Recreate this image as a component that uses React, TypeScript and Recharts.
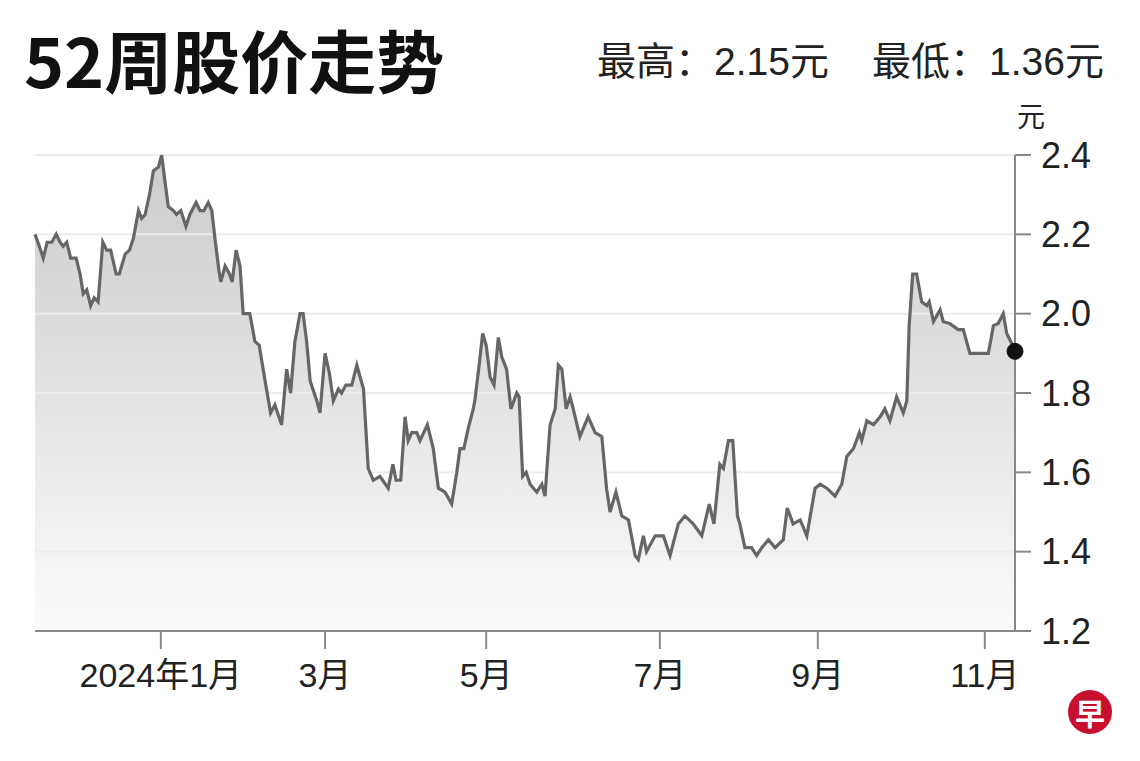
import React from "react";
import {
  ComposedChart,
  Area,
  Line,
  XAxis,
  YAxis,
  ReferenceLine,
} from "recharts";

// trading-day index (0 = start of the 52-week window)
const days = [
  0, 1.1, 2.1, 3.1, 4.3, 5.4, 6.4, 7.2, 8.1, 9.1, 10.5, 11.5, 12.3, 13.2, 14.2, 15.1, 16.1,
  17.3, 18.3, 19.3, 20.7, 21.5, 23.0, 24.1, 25.1, 26.4, 27.2, 28.1, 29.2, 30.2, 31.5, 32.3,
  33.2, 34.0, 35.3, 36.1, 37.2, 38.5, 39.5, 41.1, 42.1, 43.1, 44.2, 45.1, 45.9, 46.9, 47.4,
  48.5, 49.6, 50.3, 51.3, 52.3, 53.1, 54.8, 56.1, 57.2, 58.7, 60.1, 61.2, 62.9, 64.2, 65.2,
  66.3, 67.6, 68.4, 69.3, 70.2, 71.9, 72.7, 74.0, 75.1, 76.1, 77.4, 78.2, 79.3, 80.8, 82.1,
  83.8, 85.0, 86.3, 88.0, 90.1, 91.3, 92.1, 93.3, 94.4, 95.2, 96.1, 97.4, 98.2, 100.1, 101.6,
  102.9, 104.6, 106.3, 107.6, 108.4, 109.4, 110.5, 111.8, 112.2, 113.3, 114.2, 115.1, 116.1,
  117.1, 118.2, 119.1, 120.3, 121.4, 122.9, 123.5, 124.4, 125.3, 126.3, 128.0, 129.3, 130.1,
  131.4, 132.7, 133.5, 134.4, 135.5, 136.5, 137.3, 139.0, 141.1, 142.9, 144.6, 145.8, 146.7,
  148.2, 149.7, 151.4, 153.1, 153.9, 155.2, 156.0, 158.2, 160.3, 162.0, 164.1, 165.8, 167.9,
  170.1, 172.0, 173.2, 174.7, 175.6, 176.9, 178.0, 179.2, 179.8, 181.1, 182.8, 184.1, 185.4,
  187.1, 188.8, 190.9, 191.9, 193.4, 195.2, 196.9, 199.0, 200.3, 202.0, 204.1, 205.8, 207.1,
  208.8, 210.3, 210.9, 212.2, 213.9, 215.6, 216.8, 218.1, 219.8, 221.5, 222.4, 223.0, 223.9,
  224.9, 226.2, 227.5, 228.1, 229.2, 230.9, 231.7, 233.4, 235.5, 236.8, 238.5, 243.2, 244.5,
  245.7, 247.0, 247.9, 249.4, 250,
];

// closing price (元)
const prices = [
  2.2, 2.17, 2.14, 2.18, 2.18, 2.2, 2.18, 2.17, 2.18, 2.14, 2.14, 2.1, 2.05, 2.06, 2.02, 2.04, 2.03,
  2.18, 2.16, 2.16, 2.1, 2.1, 2.15, 2.16, 2.19, 2.26, 2.24, 2.25, 2.3, 2.36, 2.37, 2.4,
  2.33, 2.27, 2.26, 2.25, 2.26, 2.22, 2.25, 2.28, 2.26, 2.26, 2.28, 2.26, 2.19, 2.11, 2.08,
  2.12, 2.1, 2.08, 2.16, 2.12, 2.0, 2.0, 1.93, 1.92, 1.83, 1.75, 1.77, 1.72, 1.86, 1.8,
  1.93, 2.0, 2.0, 1.93, 1.83, 1.78, 1.75, 1.9, 1.85, 1.78, 1.81, 1.8, 1.82, 1.82, 1.87,
  1.81, 1.61, 1.58, 1.59, 1.56, 1.62, 1.58, 1.58, 1.74, 1.68, 1.7, 1.7, 1.68, 1.72, 1.66,
  1.56, 1.55, 1.52, 1.6, 1.66, 1.66, 1.71, 1.76, 1.78, 1.87, 1.95, 1.92, 1.84,
  1.82, 1.94, 1.89, 1.86, 1.76, 1.8, 1.79, 1.59, 1.6, 1.57, 1.55, 1.57, 1.54,
  1.72, 1.76, 1.87, 1.86, 1.76, 1.79, 1.76, 1.69, 1.74, 1.7, 1.69, 1.56, 1.5,
  1.55, 1.49, 1.48, 1.39, 1.38, 1.44, 1.4, 1.44, 1.44, 1.39, 1.47, 1.49, 1.47,
  1.44, 1.52, 1.47, 1.62, 1.61, 1.68, 1.68, 1.49, 1.47, 1.41, 1.41, 1.39, 1.41,
  1.43, 1.41, 1.43, 1.51, 1.47, 1.48, 1.44, 1.56, 1.57, 1.56, 1.54, 1.57, 1.64,
  1.66, 1.7, 1.68, 1.73, 1.72, 1.74, 1.76, 1.73, 1.79, 1.75, 1.78, 1.97, 2.1,
  2.1, 2.03, 2.02, 2.03, 1.98, 2.01, 1.98, 1.975, 1.96, 1.96, 1.9, 1.9, 1.97,
  1.975, 2.0, 1.95, 1.92, 1.905,
];

const xTicks = [32.1, 74.0, 115.1, 159.4, 199.7, 242.3];
const xTickLabels = ["2024年1月", "3月", "5月", "7月", "9月", "11月"];
const yTicks = [1.2, 1.4, 1.6, 1.8, 2.0, 2.2, 2.4];

const titleText = "52周股价走势";
const highText = "最高：2.15元";
const lowText = "最低：1.36元";
const unitText = "元";

const data = days.map((d, i) => ({ day: d, price: prices[i] }));
const lastIndex = data.length - 1;

const FONT = '"Liberation Sans", Arial, "Noto Sans CJK SC", sans-serif';
const CJK = '"Noto Sans CJK SC", "Liberation Sans", sans-serif';

const LastDot = (props: any) => {
  const { cx, cy, index } = props;
  if (index !== lastIndex) return <g key={`d${index}`} />;
  return <circle key={`d${index}`} cx={cx} cy={cy} r={8} fill="#111" stroke="#111" />;
};

export default function App() {
  return (
    <div
      style={{
        position: "absolute",
        left: 0,
        top: 0,
        width: 1140,
        height: 761,
        background: "#fff",
        overflow: "hidden",
      }}
    >
      <div
        style={{
          position: "absolute",
          left: 24,
          top: 14,
          fontFamily: CJK,
          fontWeight: 700,
          fontSize: 68,
          lineHeight: "90px",
          color: "#111",
          whiteSpace: "nowrap",
        }}
      >
        {titleText}
      </div>
      <div
        style={{
          position: "absolute",
          left: 597,
          top: 36,
          fontFamily: FONT,
          fontSize: 39,
          lineHeight: "52px",
          color: "#222",
          whiteSpace: "nowrap",
        }}
      >
        {highText}
      </div>
      <div
        style={{
          position: "absolute",
          left: 872,
          top: 36,
          fontFamily: FONT,
          fontSize: 39,
          lineHeight: "52px",
          color: "#222",
          whiteSpace: "nowrap",
        }}
      >
        {lowText}
      </div>
      <div
        style={{
          position: "absolute",
          left: 1017,
          top: 97,
          fontFamily: CJK,
          fontSize: 28,
          lineHeight: "36px",
          color: "#222",
        }}
      >
        {unitText}
      </div>
      <div
        style={{
          position: "absolute",
          left: 1068,
          top: 690,
          width: 44,
          height: 44,
          borderRadius: 22,
          background: "#c8102e",
          color: "#fff",
          fontFamily: CJK,
          fontWeight: 700,
          fontSize: 30,
          lineHeight: "44px",
          textAlign: "center",
        }}
      >
        早
      </div>
      <ComposedChart
        width={1140}
        height={761}
        data={data}
        margin={{ top: 155, right: 0, left: 35, bottom: 0 }}
        style={{ position: "absolute", left: 0, top: 0 }}
      >
        <defs>
          <linearGradient id="fillGrad" x1="0" y1="0" x2="0" y2="1">
            <stop offset="0%" stopColor="#cbcbcb" />
            <stop offset="100%" stopColor="#fbfbfb" />
          </linearGradient>
        </defs>
        <XAxis
          dataKey="day"
          type="number"
          domain={[0, 250]}
          ticks={xTicks}
          tickFormatter={(v: number) => xTickLabels[xTicks.indexOf(v)] ?? ""}
          height={130}
          axisLine={{ stroke: "#888", strokeWidth: 2 }}
          tickLine={{ stroke: "#888", strokeWidth: 2 }}
          tickSize={18}
          tickMargin={14}
          tick={{ fill: "#222", fontSize: 34, fontFamily: FONT }}
          interval={0}
        />
        <YAxis
          orientation="right"
          type="number"
          domain={[1.2, 2.4]}
          ticks={yTicks}
          tickFormatter={(v: number) => v.toFixed(1)}
          width={125}
          axisLine={{ stroke: "#888", strokeWidth: 2 }}
          tickLine={{ stroke: "#888", strokeWidth: 2 }}
          tickSize={16}
          tickMargin={10}
          tick={{ fill: "#222", fontSize: 36, fontFamily: FONT }}
          interval={0}
          allowDataOverflow
        />
        <Area
          type="linear"
          dataKey="price"
          stroke="none"
          fill="url(#fillGrad)"
          fillOpacity={1}
          baseValue={1.2}
          isAnimationActive={false}
          dot={false}
          activeDot={false}
        />
        {yTicks.slice(1).map((t) => (
          <ReferenceLine key={t} y={t} stroke="#ececec" strokeWidth={2} />
        ))}
        <Line
          type="linear"
          dataKey="price"
          stroke="#666"
          strokeWidth={3.2}
          dot={<LastDot />}
          activeDot={false}
          isAnimationActive={false}
        />
      </ComposedChart>
    </div>
  );
}
